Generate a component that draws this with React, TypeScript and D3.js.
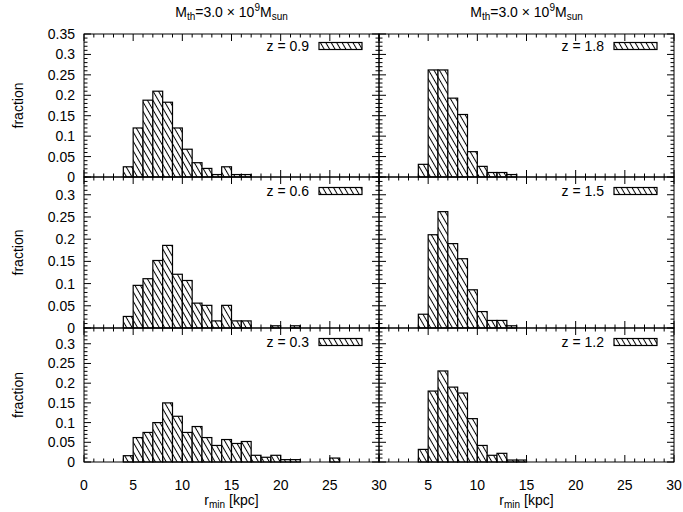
import React from "react";
import * as d3 from "d3";

// bins of r_min [kpc], each 1 kpc wide, starting at these values
const binStarts = [4, 5, 6, 7, 8, 9, 10, 11, 12, 13, 14, 15, 16, 17, 18, 19, 20, 21, 22, 23, 24, 25];

const fracZ09 = [0.025, 0.12, 0.188, 0.21, 0.183, 0.12, 0.068, 0.035, 0.021, 0.006, 0.025, 0.006, 0.006, 0, 0, 0, 0, 0, 0, 0, 0, 0];
const fracZ18 = [0.031, 0.262, 0.262, 0.193, 0.153, 0.062, 0.026, 0.011, 0.011, 0.006, 0, 0, 0, 0, 0, 0, 0, 0, 0, 0, 0, 0];
const fracZ06 = [0.026, 0.096, 0.111, 0.152, 0.186, 0.121, 0.107, 0.056, 0.051, 0.016, 0.051, 0.016, 0.016, 0, 0, 0.005, 0, 0.005, 0, 0, 0, 0];
const fracZ15 = [0.031, 0.21, 0.262, 0.19, 0.156, 0.086, 0.037, 0.017, 0.017, 0.005, 0, 0, 0, 0, 0, 0, 0, 0, 0, 0, 0, 0];
const fracZ03 = [0.016, 0.062, 0.075, 0.1, 0.15, 0.116, 0.075, 0.09, 0.062, 0.042, 0.057, 0.047, 0.052, 0.017, 0.012, 0.017, 0.006, 0.006, 0, 0, 0, 0.01];
const fracZ12 = [0.032, 0.18, 0.231, 0.19, 0.175, 0.11, 0.042, 0.017, 0.022, 0.005, 0.005, 0, 0, 0, 0, 0, 0, 0, 0, 0, 0, 0];

const panelLabels = [["z = 0.9", "z = 1.8"], ["z = 0.6", "z = 1.5"], ["z = 0.3", "z = 1.2"]];
const panelData = [[fracZ09, fracZ18], [fracZ06, fracZ15], [fracZ03, fracZ12]];

const xTickValues = [0, 5, 10, 15, 20, 25, 30];
const yTickValuesTop = [0, 0.05, 0.1, 0.15, 0.2, 0.25, 0.3, 0.35];
const yTickValuesLower = [0, 0.05, 0.1, 0.15, 0.2, 0.25, 0.3];

const FONT = "'Liberation Sans', Arial, Helvetica, sans-serif";
const FS = 14;

const cols = [
  { x0: 84, x1: 379 },
  { x0: 379, x1: 674 },
];
const rows = [
  { top: 34, bottom: 177, max: 0.35, ticks: yTickValuesTop, legendDy: 12 },
  { top: 177, bottom: 328, max: 0.34, ticks: yTickValuesLower, legendDy: 14 },
  { top: 328, bottom: 462, max: 0.34, ticks: yTickValuesLower, legendDy: 14 },
];

const fmtY = (v: number) => (v === 0 ? "0" : String(+v.toFixed(2)));

function Panel({ ri, ci }: { ri: number; ci: number }) {
  const row = rows[ri];
  const col = cols[ci];
  const x = d3.scaleLinear().domain([0, 30]).range([col.x0, col.x1]);
  const y = d3.scaleLinear().domain([0, row.max]).range([row.bottom, row.top]);
  const data = panelData[ri][ci];
  const MAJ = 7;
  const MIN = 3.5;
  const xMinor = d3.range(0, 31, 1);
  const yMinor = d3.range(0, Math.round(row.max * 100) + 1).map((d) => d / 100);
  const ticks: JSX.Element[] = [];
  xMinor.forEach((v) => {
    const len = v % 5 === 0 ? MAJ : MIN;
    const px = x(v);
    ticks.push(<line key={"xb" + v} x1={px} x2={px} y1={row.bottom} y2={row.bottom - len} />);
    ticks.push(<line key={"xt" + v} x1={px} x2={px} y1={row.top} y2={row.top + len} />);
  });
  yMinor.forEach((v, i) => {
    const len = i % 5 === 0 ? MAJ : MIN;
    const py = y(v);
    ticks.push(<line key={"yl" + i} x1={col.x0} x2={col.x0 + len} y1={py} y2={py} />);
    ticks.push(<line key={"yr" + i} x1={col.x1} x2={col.x1 - len} y1={py} y2={py} />);
  });
  const legX = col.x0 + 225;
  const legY = row.top + row.legendDy;
  return (
    <g>
      {binStarts.map((b, i) =>
        data[i] > 0 ? (
          <rect
            key={b}
            x={x(b)}
            y={y(data[i])}
            width={x(b + 1) - x(b)}
            height={y(0) - y(data[i])}
            fill="url(#hatch)"
            stroke="#000"
            strokeWidth={1.2}
          />
        ) : null
      )}
      <rect x={col.x0} y={row.top} width={col.x1 - col.x0} height={row.bottom - row.top} fill="none" stroke="#000" strokeWidth={1} />
      <g stroke="#000" strokeWidth={1}>{ticks}</g>
      <text x={legX} y={legY + 5} textAnchor="end" fontFamily={FONT} fontSize={FS}>
        {panelLabels[ri][ci]}
      </text>
      <rect x={legX + 10} y={legY - 3.5} width={43} height={7} fill="url(#hatch)" stroke="#000" strokeWidth={1.2} />
      {ci === 0 &&
        row.ticks.map((v) => (
          <text key={v} x={col.x0 - 9} y={y(v) + 5} textAnchor="end" fontFamily={FONT} fontSize={FS}>
            {fmtY(v)}
          </text>
        ))}
      {ci === 0 && (
        <text
          transform={`translate(23,${(row.top + row.bottom) / 2}) rotate(-90)`}
          textAnchor="middle"
          fontFamily={FONT}
          fontSize={FS}
        >
          fraction
        </text>
      )}
      {ri === 2 &&
        xTickValues
          .filter((v) => ci === 0 || v > 0)
          .map((v) => (
            <text key={v} x={x(v)} y={490} textAnchor="middle" fontFamily={FONT} fontSize={FS}>
              {v}
            </text>
          ))}
    </g>
  );
}

export default function App() {
  return (
    <svg width={683} height={512} style={{ display: "block", position: "absolute", left: 0, top: 0, background: "#fff" }}>
      <defs>
        <pattern id="hatch" patternUnits="userSpaceOnUse" width={4.7} height={12} patternTransform="rotate(-30)">
          <rect width={4.7} height={12} fill="#fff" />
          <line x1={2.35} y1={-1} x2={2.35} y2={13} stroke="#000" strokeWidth={1} />
        </pattern>
      </defs>
      <rect width={683} height={512} fill="#fff" />
      {rows.map((_, ri) => cols.map((_, ci) => <Panel key={ri + "-" + ci} ri={ri} ci={ci} />))}
      {cols.map((c, ci) => {
        const cx = (c.x0 + c.x1) / 2;
        return (
          <g key={ci} fontFamily={FONT}>
            <text x={cx} y={17} textAnchor="middle" fontSize={FS}>
              M<tspan dy={3} fontSize={10}>th</tspan>
              <tspan dy={-3}>=3.0 × 10</tspan>
              <tspan dy={-6} fontSize={10}>9</tspan>
              <tspan dy={6}>M</tspan>
              <tspan dy={3} fontSize={10}>sun</tspan>
            </text>
            <text x={cx} y={505} textAnchor="middle" fontSize={FS}>
              r<tspan dy={3} fontSize={10}>min</tspan>
              <tspan dy={-3}> [kpc]</tspan>
            </text>
          </g>
        );
      })}
    </svg>
  );
}
